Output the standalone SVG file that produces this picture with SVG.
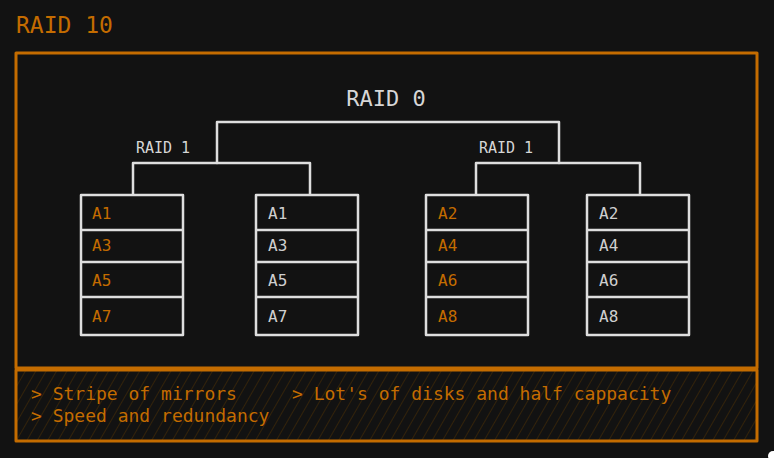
<svg xmlns="http://www.w3.org/2000/svg" width="774" height="458" viewBox="0 0 774 458">
  <style>
    .frame { fill: none; stroke: #c46c00; stroke-width: 3; stroke-linejoin: round; }
    .wire { fill: none; stroke: #dedede; stroke-width: 2.5; stroke-linecap: round; stroke-linejoin: round; }
    .box { fill: none; stroke: #dedede; stroke-width: 2.5; stroke-linejoin: round; }
    .mono { font-family: "DejaVu Sans Mono", "Liberation Mono", monospace; }
    .cell { font-size: 16px; }
    .pri { fill: #c46c00; }
    .sec { fill: #cfcfcf; }
    .lbl { fill: #d6d6d6; }
    .note { fill: #c46c00; font-size: 18px; }
  </style>
  <defs>
    <pattern id="hatch" width="9" height="9" patternUnits="userSpaceOnUse" patternTransform="rotate(30)">
      <line x1="0" y1="0" x2="0" y2="9" stroke="#3b2608" stroke-width="1.6"/>
    </pattern>
  </defs>

  <rect width="774" height="458" fill="#121212"/>

  <!-- title -->
  <text id="title" class="mono" x="16" y="33" font-size="23" fill="#c46c00">RAID 10</text>

  <!-- outer frame -->
  <g id="outer-frame">
    <rect class="frame" x="16" y="53" width="741" height="315"/>
  </g>

  <!-- notes panel -->
  <g id="notes">
    <rect x="16" y="370" width="741" height="71" fill="url(#hatch)"/>
    <rect class="frame" x="16" y="370" width="741" height="71"/>
    <text class="mono note" x="31" y="400">&gt; Stripe of mirrors</text>
    <text class="mono note" x="292" y="400">&gt; Lot's of disks and half cappacity</text>
    <text class="mono note" x="31" y="422">&gt; Speed and redundancy</text>
  </g>

  <!-- labels -->
  <g id="raid0-label">
    <text class="mono lbl" x="386" y="106" font-size="22" text-anchor="middle">RAID 0</text>
  </g>
  <g id="raid1-left-label">
    <text class="mono lbl" x="163" y="153" font-size="15" text-anchor="middle">RAID 1</text>
  </g>
  <g id="raid1-right-label">
    <text class="mono lbl" x="506" y="153" font-size="15" text-anchor="middle">RAID 1</text>
  </g>

  <!-- connectors -->
  <g id="connectors" class="wire">
    <polyline points="217,163 217,122 559,122 559,163"/>
    <polyline points="133,194 133,163 310,163 310,194"/>
    <polyline points="476,194 476,163 640,163 640,194"/>
  </g>

  <!-- disks: outer box plus three stripe separators -->
  <g id="disk-1">
    <path class="box" d="M81,195 H183 V335 H81 Z M81,230 H183 M81,262 H183 M81,297 H183"/>
    <text class="mono cell pri" x="92" y="219">A1</text>
    <text class="mono cell pri" x="92" y="251">A3</text>
    <text class="mono cell pri" x="92" y="286">A5</text>
    <text class="mono cell pri" x="92" y="322">A7</text>
  </g>
  <g id="disk-2">
    <path class="box" d="M256,195 H358 V335 H256 Z M256,230 H358 M256,262 H358 M256,297 H358"/>
    <text class="mono cell sec" x="268" y="219">A1</text>
    <text class="mono cell sec" x="268" y="251">A3</text>
    <text class="mono cell sec" x="268" y="286">A5</text>
    <text class="mono cell sec" x="268" y="322">A7</text>
  </g>
  <g id="disk-3">
    <path class="box" d="M426,195 H528 V335 H426 Z M426,230 H528 M426,262 H528 M426,297 H528"/>
    <text class="mono cell pri" x="438" y="219">A2</text>
    <text class="mono cell pri" x="438" y="251">A4</text>
    <text class="mono cell pri" x="438" y="286">A6</text>
    <text class="mono cell pri" x="438" y="322">A8</text>
  </g>
  <g id="disk-4">
    <path class="box" d="M587,195 H689 V335 H587 Z M587,230 H689 M587,262 H689 M587,297 H689"/>
    <text class="mono cell sec" x="599" y="219">A2</text>
    <text class="mono cell sec" x="599" y="251">A4</text>
    <text class="mono cell sec" x="599" y="286">A6</text>
    <text class="mono cell sec" x="599" y="322">A8</text>
  </g>

  <!-- corner blob -->
  <circle cx="773" cy="456" r="5" fill="#ffffff"/>
</svg>
